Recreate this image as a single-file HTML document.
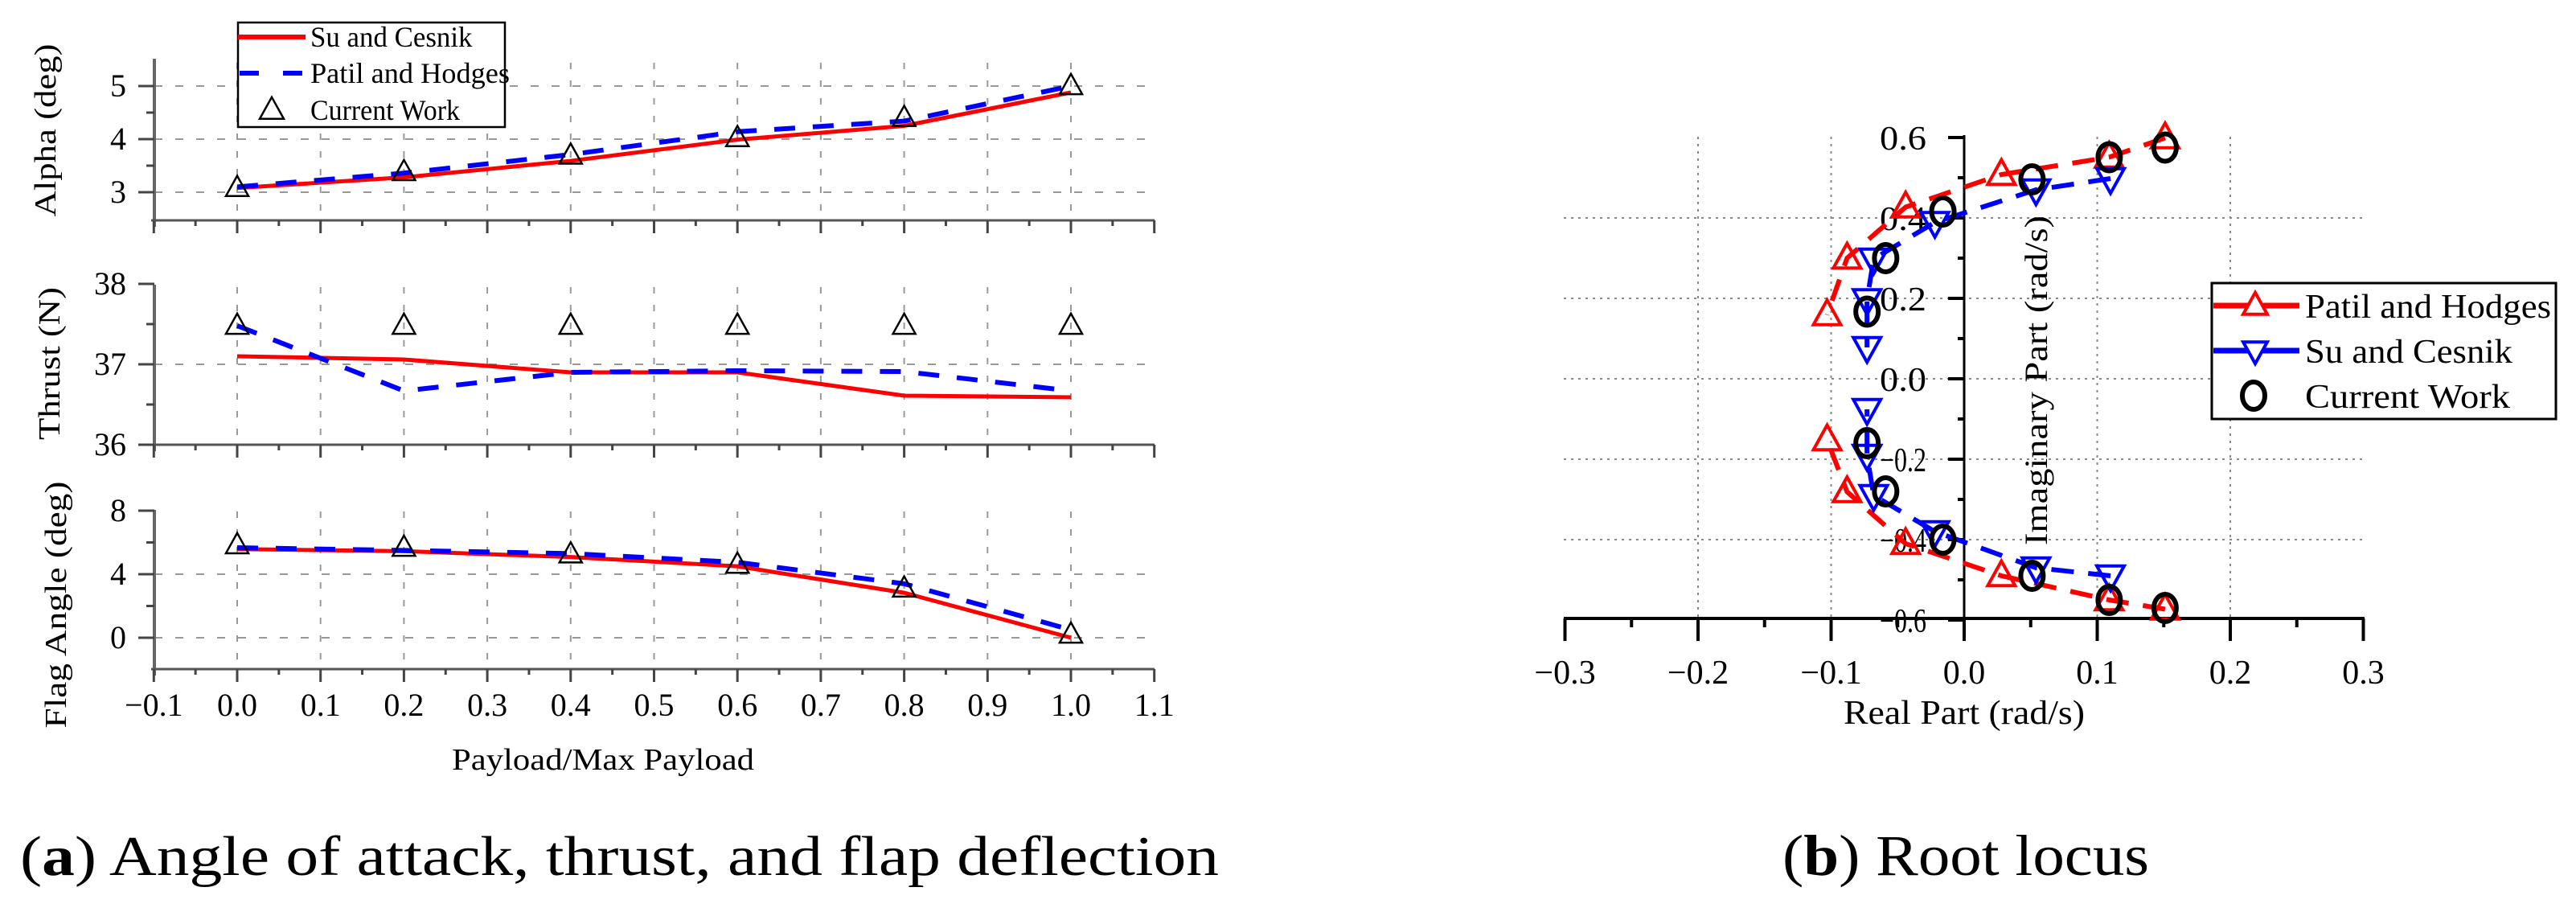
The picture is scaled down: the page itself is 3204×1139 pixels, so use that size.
<!DOCTYPE html>
<html><head><meta charset="utf-8"><style>
html,body{margin:0;padding:0;background:#fff}
svg{display:block}
text{font-family:"Liberation Serif",serif}
</style></head><body>
<svg id="fig" width="3204" height="1139" viewBox="0 0 3204 1139" xmlns="http://www.w3.org/2000/svg">
<g id="left"></g>
<g id="right"></g>
<text x="25" y="1088" font-size="70" textLength="1491" lengthAdjust="spacingAndGlyphs">(<tspan font-weight="bold">a</tspan>) Angle of attack, thrust, and flap deflection</text>
<text x="2217" y="1088" font-size="72" textLength="456" lengthAdjust="spacingAndGlyphs">(<tspan font-weight="bold">b</tspan>) Root locus</text>
</svg>
<script>
// ---- Left chart data ----
const payloadX = [0.0, 0.2, 0.4, 0.6, 0.8, 1.0];
const alphaSu = [3.08, 3.28, 3.59, 3.99, 4.25, 4.88];
const alphaPatil = [3.10, 3.36, 3.71, 4.14, 4.34, 5.00];
const alphaCurrent = [3.08, 3.38, 3.69, 4.02, 4.40, 5.00];
const thrustSu = [37.10, 37.06, 36.90, 36.90, 36.61, 36.59];
const thrustPatil = [37.48, 36.67, 36.90, 36.92, 36.91, 36.67];
const thrustCurrent = [37.48, 37.48, 37.48, 37.48, 37.48, 37.48];
const flapSu = [5.58, 5.45, 5.08, 4.50, 2.83, 0.0];
const flapPatil = [5.67, 5.50, 5.30, 4.75, 3.40, 0.5];
const flapCurrent = [5.83, 5.67, 5.25, 4.60, 3.10, 0.2];
const xTicks = ["-0.1","0.0","0.1","0.2","0.3","0.4","0.5","0.6","0.7","0.8","0.9","1.0","1.1"];
const alphaTicks = [3,4,5];
const thrustTicks = [36,37,38];
const flapTicks = [0,4,8];
// ---- Right chart data ----
const patilUpRe = [0.151, 0.109, 0.028, -0.044, -0.088, -0.103];
const patilUpIm = [0.599, 0.551, 0.508, 0.427, 0.300, 0.159];
const patilLoRe = [0.151, 0.109, 0.028, -0.044, -0.088, -0.103];
const patilLoIm = [-0.573, -0.550, -0.490, -0.410, -0.281, -0.152];
const suUpRe = [0.110, 0.054, -0.022, -0.068, -0.073, -0.073];
const suUpIm = [0.498, 0.470, 0.389, 0.298, 0.197, 0.078];
const suLoRe = [0.110, 0.054, -0.022, -0.068, -0.073, -0.073];
const suLoIm = [-0.490, -0.470, -0.380, -0.290, -0.190, -0.076];
const curUpRe = [0.151, 0.109, 0.051, -0.016, -0.059, -0.073];
const curUpIm = [0.575, 0.551, 0.496, 0.416, 0.300, 0.167];
const curLoRe = [0.151, 0.109, 0.051, -0.016, -0.059, -0.073];
const curLoIm = [-0.570, -0.550, -0.490, -0.400, -0.280, -0.160];
const reTicks = ["-0.3","-0.2","-0.1","0.0","0.1","0.2","0.3"];
const imTicks = ["-0.6","-0.4","-0.2","0.0","0.2","0.4","0.6"];

const NS = "http://www.w3.org/2000/svg";
function mk(parent, tag, attrs, txt){
  const e = document.createElementNS(NS, tag);
  for (const k in attrs) e.setAttribute(k, attrs[k]);
  if (txt !== undefined) e.textContent = txt;
  parent.appendChild(e);
  return e;
}
const L = document.getElementById('left');
const R = document.getElementById('right');
const X = v => 295 + v * 1037;

const panels = [
  {name:'alpha', y0:239, v0:3, k:66, bottom:274, top:73, gTop:78, ticks:alphaTicks, minor:[3.5,4.5], grid:[3,4,5], title:'Alpha (deg)', tx:57, ty:162, tl:215, su:alphaSu, pa:alphaPatil, cu:alphaCurrent},
  {name:'thrust', y0:453, v0:37, k:100, bottom:553, top:354, gTop:357, ticks:thrustTicks, minor:[36.5,37.5], grid:[37], title:'Thrust (N)', tx:62, ty:452, tl:190, su:thrustSu, pa:thrustPatil, cu:thrustCurrent},
  {name:'flap', y0:793, v0:0, k:19.75, bottom:832, top:634, gTop:636, ticks:flapTicks, minor:[2,6], grid:[0,4], title:'Flag Angle (deg)', tx:70, ty:752, tl:307, su:flapSu, pa:flapPatil, cu:flapCurrent}
];

function tri(parent, cx, cy, s, up, color, sw){
  const h = s*0.9;
  const pts = up ? `${cx},${cy-h*0.6} ${cx-s/2},${cy+h*0.4} ${cx+s/2},${cy+h*0.4}`
                 : `${cx},${cy+h*0.6} ${cx-s/2},${cy-h*0.4} ${cx+s/2},${cy-h*0.4}`;
  return mk(parent,'polygon',{points:pts, fill:'none', stroke:color, 'stroke-width':sw});
}

panels.forEach(p => {
  const Y = v => p.y0 - (v - p.v0) * p.k;
  const g = mk(L,'g',{});
  
  
  for (let i = 1; i <= 11; i++) {
    const gl = mk(g,'line',{x1:X(i/10-0.1),x2:X(i/10-0.1),y1:p.gTop,y2:p.bottom,stroke:'#999','stroke-width':2,'stroke-dasharray':'8 14'});
    
    
  }
  p.grid.forEach(v => {
    const gl = mk(g,'line',{x1:192,x2:1434,y1:Y(v),y2:Y(v),stroke:'#999','stroke-width':2,'stroke-dasharray':'10 16'});
    
    
  });
  mk(g,'line',{x1:192,x2:192,y1:p.top,y2:p.bottom+8,stroke:'#666','stroke-width':4});
  mk(g,'line',{x1:188,x2:1436,y1:p.bottom,y2:p.bottom,stroke:'#555','stroke-width':3});
  for (let i = 0; i <= 12; i++) {
    const v = i/10 - 0.1;
    mk(g,'line',{x1:X(v),x2:X(v),y1:p.bottom,y2:p.bottom+16,stroke:'#444','stroke-width':3});
    if (i < 12) mk(g,'line',{x1:X(v+0.05),x2:X(v+0.05),y1:p.bottom,y2:p.bottom+7,stroke:'#444','stroke-width':3});
  }
  p.ticks.forEach(v => {
    mk(g,'line',{x1:172,x2:192,y1:Y(v),y2:Y(v),stroke:'#444','stroke-width':3});
    const t = mk(g,'text',{x:157,y:Y(v)+13,'font-size':40,'text-anchor':'end'}, String(v));
    
    
  });
  p.minor.forEach(v => mk(g,'line',{x1:182,x2:192,y1:Y(v),y2:Y(v),stroke:'#444','stroke-width':3}));
  const tt = mk(g,'text',{x:0,y:0,'font-size':38,'text-anchor':'middle',transform:`translate(${p.tx+12},${p.ty}) rotate(-90)`,textLength:p.tl,lengthAdjust:'spacingAndGlyphs'}, p.title);
  
  
  const su = mk(g,'polyline',{points:payloadX.map((x,i)=>`${X(x)},${Y(p.su[i])}`).join(' '),fill:'none',stroke:'#ff0000','stroke-width':5});
  
  
  const pa = mk(g,'polyline',{points:payloadX.map((x,i)=>`${X(x)},${Y(p.pa[i])}`).join(' '),fill:'none',stroke:'#0000ff','stroke-width':6,'stroke-dasharray':'26 22'});
  
  
  payloadX.forEach((x,i) => {
    const m = tri(g, X(x), Y(p.cu[i]), 28, true, '#000', 2.5);
    
    
  });
});
xTicks.forEach((s,i) => {
  const t = mk(L,'text',{x:X(i/10-0.1),y:890,'font-size':40,'text-anchor':'middle'}, s.replace('-','\u2212'));
  
  
});
const xt = mk(L,'text',{x:562,y:957,'font-size':38,textLength:376,lengthAdjust:'spacingAndGlyphs'}, 'Payload/Max Payload');


const lg = mk(L,'g',{});


mk(lg,'rect',{x:296,y:28,width:332,height:130,fill:'#fff',stroke:'#000','stroke-width':2.5});
mk(lg,'line',{x1:296,x2:380,y1:46,y2:46,stroke:'#ff0000','stroke-width':6});
mk(lg,'line',{x1:298,x2:380,y1:91,y2:91,stroke:'#0000ff','stroke-width':6,'stroke-dasharray':'24 30'});
tri(lg, 338, 137, 30, true, '#000', 2.5);
[['Su and Cesnik',58],['Patil and Hodges',103],['Current Work',149]].forEach(([s,y]) => {
  const t = mk(lg,'text',{x:386,y:y,'font-size':36,textLength: s.length*15.5,lengthAdjust:'spacingAndGlyphs'}, s);
  
  
});

// ---- Right chart ----
const RX = v => 2443 + v * 1655;
const RY = v => 471 - v * 500;
[-0.2,-0.1,0.1,0.2].forEach(v => {
  const gl = mk(R,'line',{x1:RX(v),x2:RX(v),y1:170,y2:769,stroke:'#888','stroke-width':2,'stroke-dasharray':'3 6'});
  
  
});
[-0.4,-0.2,0,0.2,0.4].forEach(v => {
  const gl = mk(R,'line',{x1:1945,x2:2940,y1:RY(v),y2:RY(v),stroke:'#888','stroke-width':2,'stroke-dasharray':'3 6'});
  
  
});
mk(R,'line',{x1:1945,x2:2941,y1:769,y2:769,stroke:'#000','stroke-width':4});
mk(R,'line',{x1:2443,x2:2443,y1:168,y2:769,stroke:'#000','stroke-width':3});
reTicks.forEach((s,i) => {
  const v = parseFloat(s);
  mk(R,'line',{x1:RX(v),x2:RX(v),y1:769,y2:797,stroke:'#000','stroke-width':4});
  if (i < 6) mk(R,'line',{x1:RX(v+0.05),x2:RX(v+0.05),y1:769,y2:780,stroke:'#000','stroke-width':4});
  const t = mk(R,'text',{x:RX(v),y:850,'font-size':42,'text-anchor':'middle'}, s.replace('-','\u2212'));
  
  
});
imTicks.forEach((s,i) => {
  const v = parseFloat(s);
  mk(R,'line',{x1:2423,x2:2443,y1:RY(v),y2:RY(v),stroke:'#000','stroke-width':4});
  if (i < 6) mk(R,'line',{x1:2435,x2:2443,y1:RY(v+0.1),y2:RY(v+0.1),stroke:'#000','stroke-width':4});
  const t = mk(R,'text',{x:2396,y:RY(v)+15,'font-size':42,'text-anchor':'end',textLength:58,lengthAdjust:'spacingAndGlyphs'}, s.replace('-','\u2212'));
  
  
});
const yt = mk(R,'text',{x:0,y:0,'font-size':40,'text-anchor':'middle',transform:'translate(2546,473) rotate(-90)',textLength:410,lengthAdjust:'spacingAndGlyphs'}, 'Imaginary Part (rad/s)');


const rxt = mk(R,'text',{x:2443,y:900,'font-size':42,'text-anchor':'middle',textLength:300,lengthAdjust:'spacingAndGlyphs'}, 'Real Part (rad/s)');



function branch(re, im, color, kind, nm){
  const pl = mk(R,'polyline',{points:re.map((x,i)=>`${RX(x)},${RY(im[i])}`).join(' '),fill:'none',stroke:color,'stroke-width':6,'stroke-dasharray':kind==='circle'?'0':'28 18'});
  
  
  if (kind === 'circle') pl.setAttribute('stroke','none');
  re.forEach((x,i) => {
    let m;
    if (kind === 'up') m = tri(R, RX(x), RY(im[i]), 34, true, color, 4);
    else if (kind === 'down') m = tri(R, RX(x), RY(im[i]), 34, false, color, 4);
    else m = mk(R,'ellipse',{cx:RX(x),cy:RY(im[i]),rx:14,ry:17,fill:'none',stroke:'#000','stroke-width':6});
    
    
  });
}
branch(patilUpRe, patilUpIm, '#ff0000', 'up', 'patil-upper');
branch(patilLoRe, patilLoIm, '#ff0000', 'up', 'patil-lower');
branch(suUpRe, suUpIm, '#0000ff', 'down', 'su-upper');
branch(suLoRe, suLoIm, '#0000ff', 'down', 'su-lower');
branch(curUpRe, curUpIm, '#000', 'circle', 'current-upper');
branch(curLoRe, curLoIm, '#000', 'circle', 'current-lower');

const rl = mk(R,'g',{});


mk(rl,'rect',{x:2751,y:352,width:428,height:169,fill:'#fff',stroke:'#000','stroke-width':3});
mk(rl,'line',{x1:2753,x2:2860,y1:380,y2:380,stroke:'#ff0000','stroke-width':7});
tri(rl, 2805, 380, 30, true, '#ff0000', 4).setAttribute('fill','#fff');
mk(rl,'line',{x1:2753,x2:2860,y1:436,y2:436,stroke:'#0000ff','stroke-width':7});
tri(rl, 2805, 436, 30, false, '#0000ff', 4).setAttribute('fill','#fff');
mk(rl,'ellipse',{cx:2803,cy:492,rx:14,ry:17,fill:'none',stroke:'#000','stroke-width':6});
[['Patil and Hodges',395,306],['Su and Cesnik',451,258],['Current Work',507,255]].forEach(([s,y,w]) => {
  const t = mk(rl,'text',{x:2867,y:y,'font-size':42,textLength:w,lengthAdjust:'spacingAndGlyphs'}, s);
  
  
});
</script>
</body></html>
